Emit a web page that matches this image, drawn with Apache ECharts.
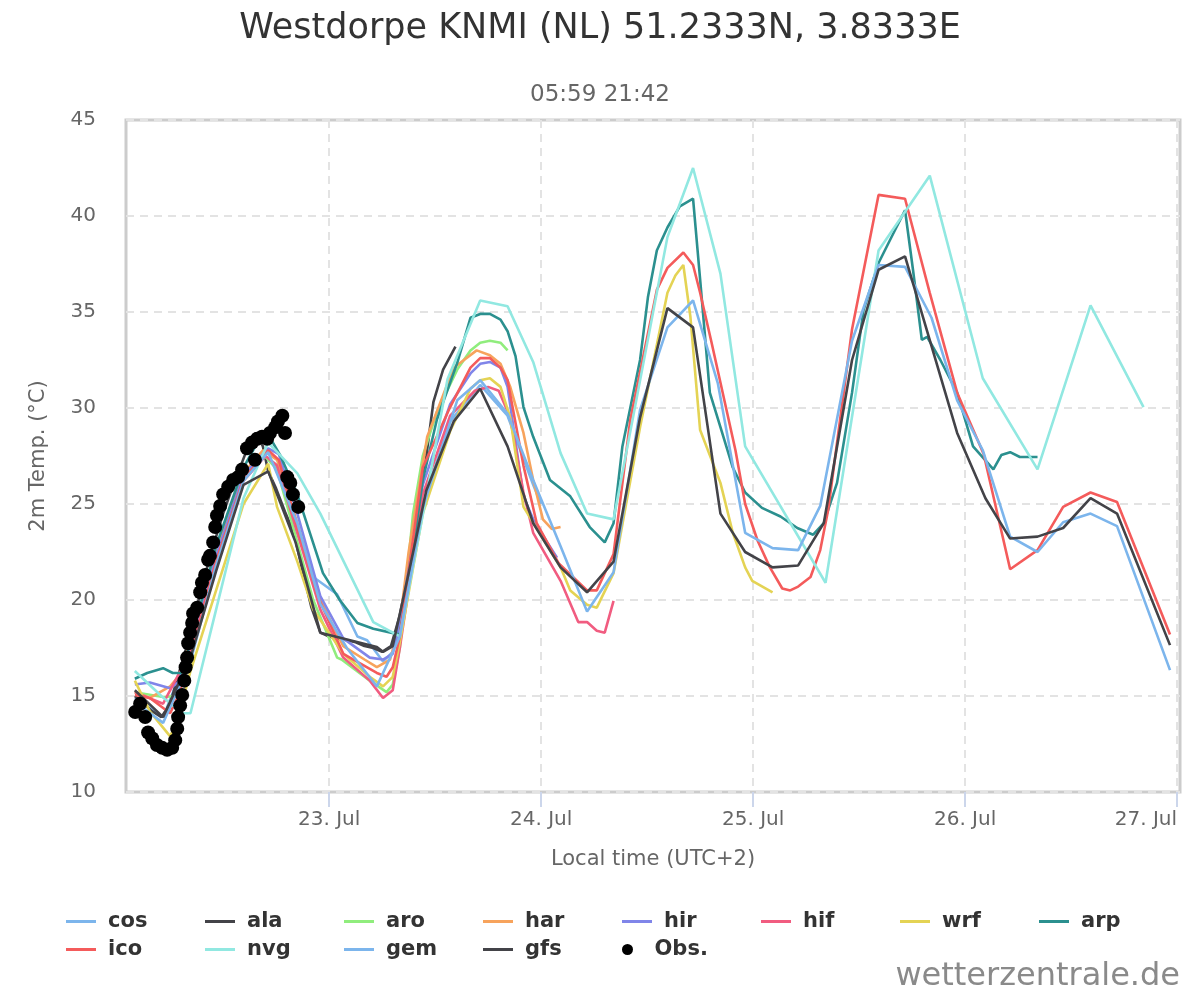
<!DOCTYPE html>
<html>
<head>
<meta charset="utf-8">
<script src="https://cdn.jsdelivr.net/npm/echarts@6/dist/echarts.min.js"></script>
<style>html,body{margin:0;padding:0;background:#fff}#c{width:1200px;height:1000px}</style>
</head>
<body>
<div id="c"></div>
<script>
// x values: hours since 22 Jul 00:00 (local time, UTC+2)
const dayTicks = [24, 48, 72, 96, 120];
const seriesNames = ['cos','ala','aro','har','hir','hif','wrf','arp','ico','nvg','gem','gfs'];

const cos = [[2,14.9],[5.2,13.9],[8.3,17.5],[11.2,22.5],[14.3,26.5],[16.5,27.6],[18.1,27.0],[20.4,23.5],[22.2,21.2],[24.0,20.6],[24.9,20.3],[27.2,18.1],[28.3,17.9],[30.1,16.8],[31.2,17.3],[32.0,18.5],[34.6,25.0],[37.7,29.3],[41.1,31.2],[44.2,29.6],[47.1,26.0],[48.0,25.0]];
const ala = [[2,15.0],[3,14.6],[4,14.2],[5,13.9],[6,14.6],[7,16.2],[8,17.8],[9,19.6],[10,21.4],[11,23.0],[12,24.5],[13,25.8],[14,27.0],[15,28.2],[15.7,28.7],[16.5,28.0],[17.1,26.7],[18,25.8],[19,24.6],[20,23.5],[21,21.5],[22,19.6],[23,18.3],[24,18.1],[25,18.0],[26,17.9],[27,17.8],[28,17.6],[29,17.5],[30,17.3],[31,17.6],[32,19.2],[33,21.5],[34,24.5],[35,27.5],[35.8,30.3],[36.9,32.0],[38.3,33.2]];
const aro = [[2,15.2],[5.2,14.95],[6.9,15.0],[8.3,17.2],[11.2,22.2],[14.3,26.3],[16.5,27.6],[18.1,26.8],[20.4,23.0],[22.2,20.0],[24.9,17.0],[25.4,16.9],[28.6,15.8],[30.5,15.2],[31.2,15.6],[32.0,17.5],[33.5,24.5],[34.6,27.5],[36.2,29.8],[38.5,32.0],[40.0,33.0],[41.1,33.4],[42.2,33.5],[43.4,33.4],[44.2,33.0]];
const har = [[2,15.2],[3.7,14.9],[6.0,15.5],[6.9,16.0],[8.3,17.8],[11.2,22.5],[14.3,26.6],[16.5,27.8],[18.1,27.3],[20.4,24.0],[23.0,20.0],[25.6,17.6],[28.0,16.9],[29.4,16.5],[30.9,16.9],[32.0,18.8],[33.0,22.5],[35.1,28.5],[38.1,32.1],[40.7,33.0],[42.2,32.75],[43.4,32.3],[44.5,31.1],[46.0,28.7],[47.1,26.25],[48.2,24.2],[49.2,23.7],[50.2,23.8]];
const hir = [[2,15.6],[3.7,15.7],[6.0,15.4],[6.9,15.7],[8.3,17.5],[11.2,22.3],[14.3,26.5],[17.1,27.9],[18.3,27.6],[20.4,24.5],[23.0,20.2],[25.6,18.0],[28.6,17.0],[30.1,16.9],[31.2,17.2],[32.0,18.8],[34.6,26.0],[37.7,30.2],[40.0,31.8],[41.1,32.3],[42.2,32.4],[43.4,32.1],[44.2,31.1],[46.0,25.4],[47.1,24.2],[48.7,23.0],[49.8,22.2]];
const hif = [[2,15.2],[5.2,14.6],[8.3,17.3],[11.2,22.0],[14.3,26.2],[16.8,27.5],[18.1,27.0],[20.4,23.5],[23.0,19.5],[25.6,17.0],[28.6,15.8],[30.1,14.9],[31.2,15.3],[32.0,17.5],[34.6,25.5],[37.7,29.6],[40.5,30.9],[42.0,31.1],[43.2,30.9],[44.5,29.5],[46.0,25.6],[47.1,23.5],[50.2,21.0],[52.2,18.85],[53.2,18.85],[54.3,18.4],[55.2,18.3],[56.2,19.95]];
const wrf = [[2,15.8],[3.7,14.2],[6.0,12.9],[6.9,13.8],[8.3,16.3],[11.2,20.5],[14.3,25.0],[17.1,27.1],[18.1,24.85],[20.4,22.0],[22.2,19.5],[25.6,17.2],[28.6,16.0],[30.1,15.5],[31.2,16.0],[32.0,17.8],[34.6,24.5],[37.7,28.8],[40.0,31.0],[41.1,31.45],[42.2,31.55],[43.4,31.1],[44.5,29.5],[46.0,24.85],[50.2,21.7],[51.3,20.5],[53.2,19.75],[54.3,19.6],[56.2,21.4],[59.2,29.0],[62.3,36.0],[63.2,36.9],[64.1,37.45],[64.9,34.75],[66.0,28.85],[68.3,26.1],[69.7,23.5],[71.1,21.7],[71.9,21.0],[74.2,20.4]];
const arp = [[2,15.9],[3.4,16.2],[5.2,16.45],[6.3,16.2],[7.3,16.2],[8.3,17.8],[11.2,22.8],[14.3,26.9],[16.0,28.3],[17.5,28.3],[18.5,27.5],[20.4,25.5],[23.3,21.4],[25.2,20.0],[27.2,18.8],[29.0,18.5],[31.0,18.3],[32.0,18.2],[33.0,21.0],[34.6,26.25],[36.2,29.4],[38.5,32.35],[40.0,34.7],[41.1,34.9],[42.2,34.9],[43.4,34.6],[44.2,34.0],[45.1,32.7],[46.0,30.05],[47.1,28.5],[49.0,26.25],[51.3,25.4],[53.5,23.8],[55.2,23.0],[56.2,24.0],[57.2,28.0],[59.2,32.5],[60.1,35.8],[61.1,38.2],[62.3,39.4],[63.7,40.5],[65.2,40.9],[66.0,36.7],[67.1,30.8],[68.3,29.0],[69.7,26.9],[71.1,25.6],[73.0,24.8],[75.1,24.35],[77.0,23.75],[78.8,23.4],[80.0,24.0],[81.5,26.1],[83.2,30.8],[84.5,35.1],[86.2,37.55],[87.5,38.75],[89.2,40.3],[90.1,37.2],[91.1,33.55],[91.7,33.7],[93.2,32.5],[95.1,30.8],[96.9,28.0],[99.2,26.8],[100.1,27.55],[101.1,27.7],[102.2,27.45],[104.2,27.45]];
const ico = [[2,15.05],[3.7,14.9],[6.0,14.1],[6.9,15.0],[8.3,17.0],[11.2,22.0],[14.3,26.3],[17.1,27.8],[18.3,27.3],[20.4,23.8],[22.7,20.2],[25.6,17.2],[29.4,16.2],[30.5,16.0],[31.2,16.5],[32.0,18.1],[34.6,26.9],[37.7,30.05],[40.0,32.1],[41.1,32.6],[42.2,32.6],[43.4,32.1],[44.2,31.45],[46.0,27.0],[47.5,24.0],[50.0,21.9],[53.2,20.5],[54.3,20.5],[56.2,22.4],[58.1,29.4],[61.1,36.15],[62.3,37.3],[64.1,38.1],[65.2,37.45],[66.0,36.0],[67.3,33.4],[70.0,27.8],[71.1,25.0],[72.5,23.1],[73.9,21.7],[75.3,20.6],[76.2,20.5],[77.1,20.7],[78.5,21.2],[79.6,22.6],[80.5,24.7],[83.2,34.1],[86.2,41.1],[89.2,40.9],[92.0,36.0],[95.1,30.8],[98.1,27.6],[100.0,23.8],[101.1,21.6],[104.2,22.6],[107.1,24.85],[110.2,25.6],[113.2,25.1],[119.2,18.2]];
const nvg = [[2,16.3],[5.0,15.0],[7.4,14.1],[8.3,14.1],[11.2,19.5],[14.3,25.3],[17.1,28.2],[20.4,26.6],[23.0,24.5],[29.0,18.85],[32.0,18.1],[35.0,25.4],[37.4,31.5],[41.1,35.6],[44.2,35.3],[47.1,32.4],[50.2,27.65],[53.2,24.5],[56.2,24.2],[62.3,38.9],[65.2,42.5],[68.3,37.0],[71.1,28.0],[80.2,20.9],[86.2,38.2],[92.0,42.1],[98.0,31.55],[104.2,26.8],[110.2,35.35],[116.2,30.05]];
const gem = [[2,14.7],[5.2,13.6],[8.3,16.8],[11.2,21.8],[14.3,26.2],[17.1,27.7],[20.4,24.0],[23.0,19.8],[26.0,17.5],[29.4,15.5],[32.0,18.1],[34.6,24.8],[38.5,30.4],[41.1,31.45],[44.2,29.7],[47.1,26.25],[50.2,22.8],[53.2,19.4],[56.2,21.45],[59.2,29.9],[62.3,34.2],[65.2,35.6],[68.0,31.3],[71.1,23.5],[74.2,22.7],[77.1,22.6],[79.6,24.9],[83.2,33.5],[86.2,37.45],[89.2,37.35],[92.2,34.7],[95.1,30.4],[98.0,27.8],[101.1,23.3],[104.2,22.5],[107.1,24.05],[110.2,24.5],[113.2,23.85],[119.2,16.35]];
const gfs = [[2,15.3],[5.2,13.9],[8.3,17.0],[11.2,21.5],[14.3,26.0],[17.1,26.7],[20.2,23.0],[23.0,18.3],[29.4,17.55],[30.1,17.3],[31.2,17.6],[32.3,19.9],[35.0,25.7],[38.1,29.3],[41.1,31.0],[44.2,28.0],[47.1,24.0],[50.2,21.7],[53.2,20.4],[56.2,22.0],[59.2,29.5],[62.3,35.2],[65.2,34.2],[68.3,24.5],[71.1,22.5],[74.2,21.7],[77.1,21.8],[80.0,24.0],[83.2,32.5],[86.2,37.2],[89.2,37.9],[95.1,28.7],[98.3,25.3],[101.1,23.2],[104.2,23.3],[107.1,23.75],[110.2,25.3],[113.2,24.5],[119.2,17.65]];
const obs = [[2.04,14.17],[2.6,14.6],[3.17,13.9],[3.5,13.1],[3.96,12.8],[4.5,12.45],[5.1,12.3],[5.66,12.2],[6.23,12.3],[6.57,12.7],[6.8,13.3],[6.9,13.9],[7.13,14.5],[7.36,15.05],[7.6,15.8],[7.75,16.5],[7.92,17.0],[8.04,17.75],[8.26,18.3],[8.49,18.8],[8.6,19.3],[9.06,19.6],[9.4,20.4],[9.6,20.9],[9.96,21.3],[10.3,22.1],[10.5,22.3],[10.87,23.0],[11.1,23.8],[11.3,24.4],[11.66,24.9],[12.0,25.5],[12.57,25.9],[13.13,26.25],[13.7,26.4],[14.15,26.8],[14.7,27.9],[15.28,28.2],[15.6,27.3],[15.85,28.4],[16.4,28.5],[16.98,28.4],[17.3,28.7],[17.9,29.0],[18.2,29.3],[18.7,29.6],[19.0,28.7],[19.25,26.4],[19.6,26.1],[19.9,25.5],[20.5,24.85]];

const seriesData = {cos, ala, aro, har, hir, hif, wrf, arp, ico, nvg, gem, gfs};
const colors = {cos:'#7cb5ec', ala:'#434348', aro:'#90ed7d', har:'#f7a35c', hir:'#8085e9', hif:'#f15c80', wrf:'#e4d354', arp:'#2b908f', ico:'#f45b5b', nvg:'#91e8e1', gem:'#7cb5ec', gfs:'#434348'};

const FONT = 'DejaVu Sans';
const legendOrder = ['cos','ala','aro','har','hir','hif','wrf','arp','ico','nvg','gem','gfs','Obs.'];
const legends = legendOrder.map((n, i) => {
  const row = Math.floor(i / 8), col = i % 8;
  const isObs = n === 'Obs.';
  return {
    data: [n], left: 66 + col * 139, top: 911 + row * 28, padding: 0,
    icon: isObs ? 'circle' : 'rect', itemWidth: 30, itemHeight: isObs ? 11 : 3,
    textStyle: {fontFamily: FONT, fontSize: 21, fontWeight: 'bold', color: '#333', padding: [0,0,0,7]}
  };
});

const series = seriesNames.map(n => ({
  name: n, type: 'line', data: seriesData[n], symbol: 'none', showSymbol: false,
  color: colors[n], lineStyle: {width: 2.6, color: colors[n]}, emphasis: {disabled: true}, animation: false
}));
series.push({name: 'Obs.', type: 'scatter', data: obs, symbolSize: 14, color: '#000', itemStyle: {color: '#000', opacity: 1}, animation: false, z: 5});

const chart = echarts.init(document.getElementById('c'), null, {renderer: 'canvas'});
chart.setOption({
  animation: false,
  backgroundColor: '#fff',
  title: [
    {text: 'Westdorpe KNMI (NL) 51.2333N, 3.8333E', left: 'center', top: 6, textStyle: {fontFamily: FONT, fontSize: 35, fontWeight: 'normal', color: '#333'}},
    {text: '05:59 21:42', left: 'center', top: 79, textStyle: {fontFamily: FONT, fontSize: 23, fontWeight: 'normal', color: '#666'}}
  ],
  legend: legends,
  grid: {left: 126, right: 20, top: 120, bottom: 208, show: true, borderColor: '#ccc', borderWidth: 3, backgroundColor: 'transparent'},
  xAxis: {
    type: 'value', min: 1, max: 120.33,
    name: 'Local time (UTC+2)', nameLocation: 'middle', nameGap: 57,
    nameTextStyle: {fontFamily: FONT, fontSize: 21, color: '#666'},
    axisLine: {show: false},
    axisTick: {show: true, length: 15, lineStyle: {color: '#ccd6eb', width: 2}, customValues: dayTicks},
    axisLabel: {customValues: dayTicks, fontFamily: FONT, fontSize: 20, color: '#666', margin: 18,
      alignMaxLabel: 'right', formatter: v => (22 + Math.round(v / 24)) + '. Jul'},
    splitLine: {show: true, lineStyle: {color: '#e3e3e3', width: 2, type: [8, 6]}}
  },
  yAxis: {
    type: 'value', min: 10, max: 45, interval: 5,
    name: '2m Temp. (°C)', nameLocation: 'middle', nameGap: 77,
    nameTextStyle: {fontFamily: FONT, fontSize: 21, color: '#666'},
    axisLine: {show: false}, axisTick: {show: false},
    axisLabel: {fontFamily: FONT, fontSize: 20, color: '#666', margin: 30},
    splitLine: {show: true, lineStyle: {color: '#e3e3e3', width: 2, type: [8, 6]}}
  },
  graphic: [{type: 'text', right: 20, top: 961, style: {text: 'wetterzentrale.de', font: '32px "DejaVu Sans"', fill: '#8a8a8a'}}],
  series
});
</script>
</body>
</html>
